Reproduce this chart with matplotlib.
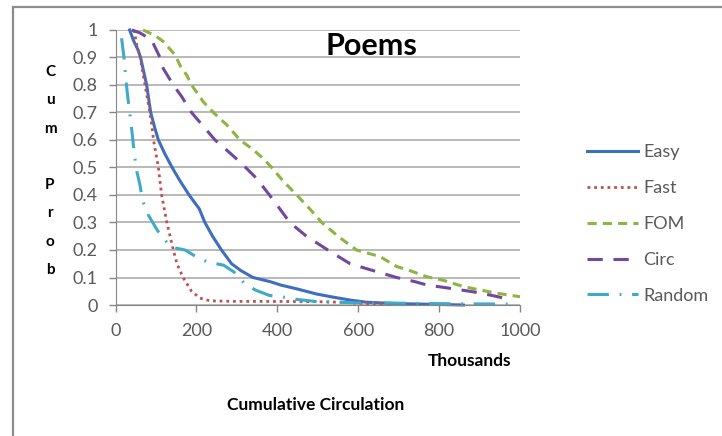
import matplotlib
matplotlib.use("Agg")
import matplotlib.pyplot as plt
from matplotlib.patches import Rectangle

plt.rcParams['font.family'] = ['Lato', 'DejaVu Sans']

# cumulative probability curves, x in thousands
easy_x = [35, 45, 55, 62, 77, 87, 96, 106, 122, 140, 160, 182, 197, 207, 221, 240, 262, 287, 310, 340,
          382, 410, 450, 497, 540, 580, 620, 700, 800, 860]
easy_y = [1.0, 0.96, 0.93, 0.9, 0.8, 0.7, 0.65, 0.6, 0.55, 0.5, 0.45, 0.4, 0.37, 0.35, 0.3, 0.25, 0.2, 0.15,
          0.125, 0.1, 0.085, 0.072, 0.058, 0.04, 0.028, 0.018, 0.01, 0.005, 0.002, 0.0]

fast_x = [46, 52, 61, 67, 73, 79, 85, 90, 94, 100, 106, 114, 127, 135, 143, 152, 167, 188, 209, 234,
          300, 400, 500, 560, 620, 680]
fast_y = [1.0, 0.95, 0.9, 0.85, 0.8, 0.75, 0.7, 0.65, 0.6, 0.55, 0.5, 0.4, 0.3, 0.25, 0.2, 0.15, 0.1,
          0.05, 0.025, 0.015, 0.013, 0.013, 0.012, 0.01, 0.005, 0.002]

fom_x = [68, 77, 98, 118, 147, 160, 176, 188, 217, 242, 275, 308, 341, 365, 386, 415, 448, 480, 510,
         550, 596, 654, 695, 728, 769, 810, 860, 900, 942, 1000]
fom_y = [1.0, 0.994, 0.98, 0.958, 0.91, 0.87, 0.836, 0.8, 0.739, 0.7, 0.655, 0.6, 0.564, 0.533, 0.5,
         0.45, 0.4, 0.35, 0.3, 0.25, 0.2, 0.176, 0.14, 0.125, 0.103, 0.09, 0.067, 0.055, 0.043, 0.03]

circ_x = [40, 60, 89, 110, 118, 143, 164, 188, 217, 246, 262, 308, 349, 390, 431, 472, 525, 580, 637,
          695, 740, 769, 830, 884, 930, 975]
circ_y = [1.0, 0.99, 0.964, 0.9, 0.86, 0.8, 0.757, 0.7, 0.65, 0.6, 0.58, 0.52, 0.46, 0.382, 0.3, 0.25,
          0.2, 0.15, 0.125, 0.1, 0.085, 0.073, 0.06, 0.048, 0.035, 0.02]

rand_x = [15, 21, 25, 30, 36, 40, 45, 52, 60, 67, 80, 100, 113, 139, 172, 200, 230, 267, 293, 318, 345,
          380, 410, 450, 500, 600, 800, 990]
rand_y = [0.97, 0.9, 0.83, 0.76, 0.69, 0.64, 0.57, 0.49, 0.44, 0.38, 0.33, 0.28, 0.25, 0.21, 0.2, 0.175,
          0.155, 0.145, 0.12, 0.08, 0.055, 0.035, 0.03, 0.02, 0.012, 0.008, 0.005, 0.003]

xticks = [0, 200, 400, 600, 800, 1000]
yticks = [0, 0.1, 0.2, 0.3, 0.4, 0.5, 0.6, 0.7, 0.8, 0.9, 1]
ytick_labels = ['0', '0.1', '0.2', '0.3', '0.4', '0.5', '0.6', '0.7', '0.8', '0.9', '1']

W, H = 722, 436
fig = plt.figure(figsize=(W / 100, H / 100), dpi=100)
ax = fig.add_axes([115.5 / W, 1 - 305 / H, (520 - 115.5) / W, 275 / H])

ax.plot(easy_x, easy_y, color='#3F6EBF', lw=2.2, label='Easy', clip_on=False)
ax.plot(fast_x, fast_y, color='#C0504D', lw=2.0, ls=(0, (1, 1.4)), label='Fast', clip_on=False)
ax.plot(fom_x, fom_y, color='#8DB543', lw=2.2, ls=(0, (3, 2)), label='FOM', clip_on=False)
ax.plot(circ_x, circ_y, color='#7247A0', lw=2.2, ls=(0, (5, 3.5)), label='Circ', clip_on=False)
ax.plot(rand_x, rand_y, color='#3FA9C8', lw=2.2, ls=(0, (7, 3.5, 0.6, 3.5)), label='Random', clip_on=False)

ax.set_xlim(0, 1000)
ax.set_ylim(0, 1)
ax.set_xticks(xticks)
ax.set_yticks(yticks)
ax.set_yticklabels(ytick_labels)
ax.grid(axis='y', color='#A6A6A6', lw=1.1)
ax.set_axisbelow(True)
for s in ['top', 'right']:
    ax.spines[s].set_visible(False)
for s in ['left', 'bottom']:
    ax.spines[s].set_color('#868686')
ax.tick_params(axis='both', colors='#868686', labelcolor='#595959', labelsize=13, length=5, width=1)
ax.tick_params(axis='y', pad=8)
ax.tick_params(axis='x', pad=8)

fig.text(371 / W, 1 - 46 / H, 'Poems', ha='center', va='center', fontsize=22, fontweight='bold')
fig.text(50 / W, 1 - 171 / H, 'C\nu\nm\n\nP\nr\no\nb', ha='center', va='center', fontsize=11,
         fontweight='bold', linespacing=2.3)
fig.text(469 / W, 1 - 361 / H, 'Thousands', ha='center', va='center', fontsize=12.5, fontweight='bold')
fig.text(316 / W, 1 - 405 / H, 'Cumulative Circulation', ha='center', va='center', fontsize=12.5,
         fontweight='bold')

fig.legend(loc='center left', bbox_to_anchor=(571 / W, 1 - 224 / H), frameon=False, fontsize=13,
           handlelength=2.8, handletextpad=0.3, labelspacing=1.1, labelcolor='#595959')

fig.patches.append(Rectangle((12.5 / W, -0.1), 1.2, 1 - 7 / H + 0.1, transform=fig.transFigure,
                             fill=False, edgecolor='#8C8C8C', lw=1.6))

fig.savefig('out.png', dpi=100)
